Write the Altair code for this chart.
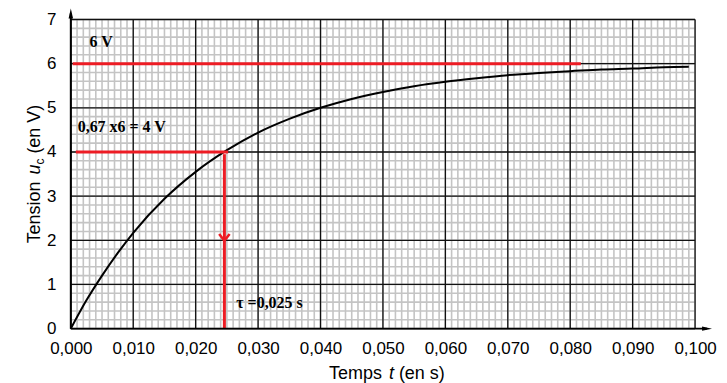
import altair as alt
import pandas as pd

# ---- data ----
t_vals = [0, 0.0025, 0.005, 0.0075, 0.010, 0.015, 0.020, 0.025, 0.030, 0.035, 0.040,
          0.045, 0.050, 0.055, 0.060, 0.065, 0.070, 0.075, 0.080, 0.085, 0.090, 0.095, 0.099]
u_vals = [0, 0.64, 1.20, 1.71, 2.17, 2.94, 3.55, 4.04, 4.44, 4.75, 5.00,
          5.20, 5.36, 5.49, 5.59, 5.67, 5.74, 5.79, 5.83, 5.87, 5.89, 5.92, 5.93]

major_x = [0, 0.01, 0.02, 0.03, 0.04, 0.05, 0.06, 0.07, 0.08, 0.09, 0.10]
major_y = [0, 1, 2, 3, 4, 5, 6, 7]
minor_x = [i / 1000 for i in range(101)]
minor_y = [i / 5 for i in range(36)]

# red construction lines
h_y = [6, 4]
h_x0 = [0.0003, 0.0008]
h_x1 = [0.0817, 0.0252]
v_x = [0.0246]
v_y0 = [3.95]
v_y1 = [0]
arrow_t = [0.0246]
arrow_u = [2.06]

ann_x = [0.003, 0.0011, 0.0265]
ann_y = [6.37, 4.45, 0.47]
ann_text = ["6 V", "0,67 x6 = 4 V", "τ =0,025 s"]

W, H = 626, 310

curve_df = pd.DataFrame({"t": t_vals, "u": u_vals})
xs = alt.Scale(domain=[0, 0.1], nice=False, zero=False)
ys = alt.Scale(domain=[0, 7], nice=False, zero=False)

lab_font = "Liberation Sans"
minor_col = "#c4c4c4"

x_axis = alt.Axis(
    values=major_x, grid=False, ticks=False, domain=False, title=None,
    labelExpr="replace(format(datum.value, '.3f'), '.', ',')",
    labelFont=lab_font, labelFontSize=17, labelColor="black", labelPadding=12,
    labelFlush=False, labelOverlap=False, orient="bottom")
y_axis = alt.Axis(
    values=major_y, grid=False, ticks=False, domain=False, title=None, format="d",
    labelFont=lab_font, labelFontSize=17, labelColor="black",
    labelPadding=15, labelOverlap=False, orient="left")

# minor grid lines (first layers, they also carry the axes)
mgx = alt.Chart(pd.DataFrame({"v": minor_x})).mark_rule(color=minor_col, strokeWidth=1.6).encode(
    x=alt.X("v:Q", scale=xs, axis=x_axis))
mgy = alt.Chart(pd.DataFrame({"v": minor_y})).mark_rule(color=minor_col, strokeWidth=1.6).encode(
    y=alt.Y("v:Q", scale=ys, axis=y_axis))
# major grid lines
gx = alt.Chart(pd.DataFrame({"v": major_x})).mark_rule(color="#111", strokeWidth=1.3).encode(
    x=alt.X("v:Q", title=None))
gy = alt.Chart(pd.DataFrame({"v": major_y})).mark_rule(color="#111", strokeWidth=1.3).encode(
    y=alt.Y("v:Q", title=None))

curve = alt.Chart(curve_df).mark_line(color="black", strokeWidth=2, interpolate="monotone").encode(
    x=alt.X("t:Q", title=None), y=alt.Y("u:Q", title=None))

red = "#ed1c24"
hlines = alt.Chart(pd.DataFrame({"x0": h_x0, "x1": h_x1, "y": h_y})).mark_rule(
    color=red, strokeWidth=3).encode(x=alt.X("x0:Q", title=None), x2="x1:Q",
                                     y=alt.Y("y:Q", title=None))
vline = alt.Chart(pd.DataFrame({"x": v_x, "y0": v_y0, "y1": v_y1})).mark_rule(
    color=red, strokeWidth=3).encode(x=alt.X("x:Q", title=None), y=alt.Y("y0:Q", title=None),
                                     y2="y1:Q")
chev = alt.Chart(pd.DataFrame({"t": arrow_t, "u": arrow_u})).mark_point(
    shape="M-1,-0.7 L0,0.6 L1,-0.7", filled=False, stroke=red, strokeWidth=2.5, size=110,
    opacity=1).encode(x=alt.X("t:Q", title=None), y=alt.Y("u:Q", title=None))

ann = alt.Chart(pd.DataFrame({"x": ann_x, "y": ann_y, "s": ann_text})).mark_text(
    font="Liberation Serif", fontWeight="bold", fontSize=16, align="left",
    baseline="alphabetic", color="black").encode(
    x=alt.X("x:Q", title=None), y=alt.Y("y:Q", title=None), text="s:N")

one = pd.DataFrame({"a": [0]})
# axis lines with arrows
yline = alt.Chart(one).mark_rule(color="black", strokeWidth=2).encode(
    x=alt.value(0), y=alt.value(H), y2=alt.value(-6))
xline = alt.Chart(one).mark_rule(color="black", strokeWidth=2).encode(
    x=alt.value(0), x2=alt.value(W + 12), y=alt.value(H))
yhead = alt.Chart(one).mark_point(shape="M0,-1 L0.45,1 L-0.45,1 Z", filled=True, color="black",
                                  size=100, opacity=1).encode(x=alt.value(0), y=alt.value(-6))
xhead = alt.Chart(one).mark_point(shape="M1,0 L-1,-0.45 L-1,0.45 Z", filled=True, color="black",
                                  size=100, opacity=1).encode(x=alt.value(W + 12), y=alt.value(H))


def txt(s, x, y, size=18, style="normal", angle=0):
    return alt.Chart(one).mark_text(
        text=s, font=lab_font, fontSize=size, fontStyle=style, align="left",
        baseline="alphabetic", color="black", angle=angle).encode(
        x=alt.value(x), y=alt.value(y))


# x title pieces: "Temps t (en s)"
xt0 = 259
xb = H + 51
xtitle = [txt("Temps", xt0, xb), txt("t", xt0 + 60, xb, style="italic"),
          txt("(en s)", xt0 + 70, xb)]
# y title pieces: "Tension u_c (en V)"
yb = -31
ys0 = 224.5
ytitle = [txt("Tension", yb, ys0, angle=270),
          txt("u", yb, ys0 - 69, style="italic", angle=270),
          txt("c", yb + 4, ys0 - 79, size=12, angle=270),
          txt("(en V)", yb, ys0 - 90, angle=270)]

chart = alt.layer(mgx, mgy, gx, gy, curve, hlines, vline, chev, ann, yline, xline, yhead, xhead,
                  *xtitle, *ytitle).properties(
    width=W, height=H,
    padding={"left": 63, "top": 11, "right": 24, "bottom": 54},
    autosize=alt.AutoSizeParams(type="none"),
).configure_view(stroke=None)

chart.save("out.html", embed_options={"renderer": "svg", "actions": False})
